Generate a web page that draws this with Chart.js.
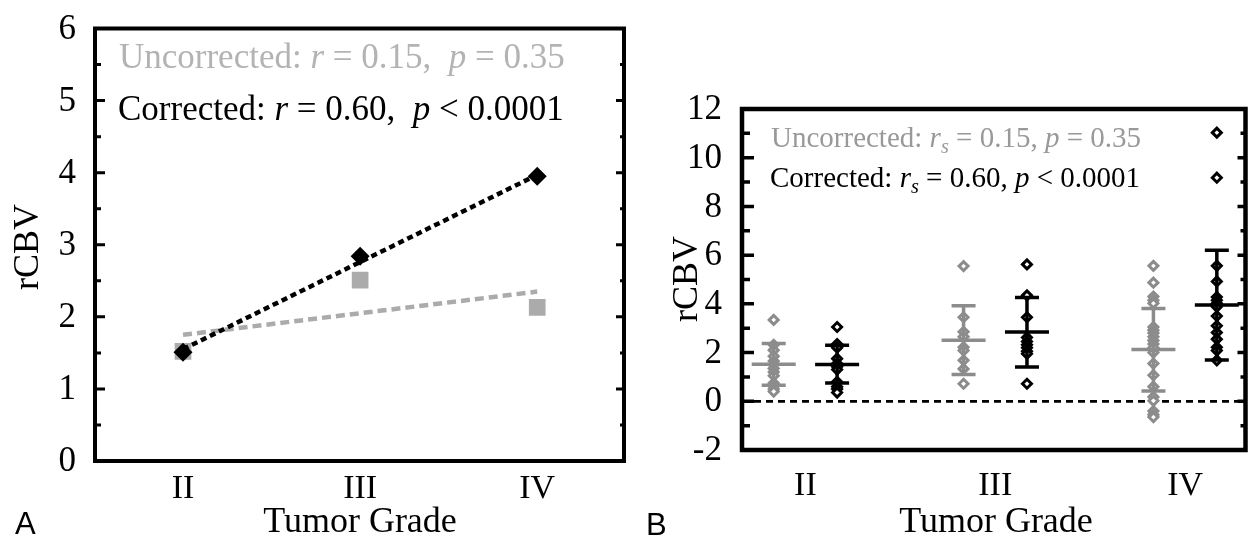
<!DOCTYPE html>
<html>
<head>
<meta charset="utf-8">
<script src="https://cdn.jsdelivr.net/npm/chart.js@4.4.0/dist/chart.umd.min.js"></script>
<style>
  html, body { margin: 0; background: #fff; }
  #wrap { position: relative; width: 1253px; height: 542px; }
  #wrap canvas { position: absolute; left: 0; top: 0; }
</style>
</head>
<body>
<div id="wrap">
  <canvas id="chart-a" width="1253" height="542"></canvas>
  <canvas id="chart-b" width="1253" height="542"></canvas>
</div>
<script>
const GRADES  = ['II', 'III', 'IV'];
const GRADE_X = [2, 3, 4];

// group means (shared by both panels)
const meanUncorrected = [1.52, 2.51, 2.13];
const meanCorrected   = [1.51, 2.84, 3.95];

// regression lines, value at grade II and grade IV
const fitUncorrected = [1.75, 2.35];
const fitCorrected   = [1.55, 3.97];

// per-patient rCBV
const uncII  = [3.34, 2.32, 2.1, 1.85, 1.65, 1.5, 1.35, 1.2, 1.05, 0.75, 0.62, 0.5, 0.4];
const corII  = [3.05, 2.35, 2.2, 1.75, 1.55, 1.42, 1.3, 0.8, 0.6, 0.5, 0.36];
const uncIII = [5.55, 3.45, 2.85, 2.65, 2.22, 2.08, 1.68, 1.33, 0.72];
const corIII = [5.62, 4.35, 3.45, 2.62, 2.45, 2.32, 2.2, 2.05, 1.95, 0.72];
const uncIV  = [5.56, 4.87, 4.3, 4.15, 4.02, 3.05, 2.92, 2.8, 2.65, 2.5, 2.35, 2.2, 2.0, 1.55, 1.07, 0.6, 0.18, 0.02, -0.4, -0.55, -0.65];
const corIV  = [11.03, 9.18, 5.56, 4.92, 4.28, 4.15, 4.02, 3.88, 3.5, 3.1, 2.82, 2.55, 2.22, 2.08, 1.68];

// mean +/- SD whiskers
const sdUncHi = [2.37, 3.92, 3.81];
const sdUncLo = [0.66, 1.10, 0.42];
const sdCorHi = [2.30, 4.26, 6.20];
const sdCorLo = [0.75, 1.41, 1.69];

const SERIF = '"Liberation Serif", "Times New Roman", serif';
const SANS  = '"Liberation Sans", Arial, sans-serif';
const GREY_A = '#ababab';
const GREY_B = '#8c8c8c';
const SHIFT  = 0.167;   // half-gap between uncorrected / corrected columns

const statA = [
  { x: 119, y: 68, size: 35, color: '#b3b3b3',
    parts: [{ t: 'Uncorrected: ' }, { t: 'r', i: 1 }, { t: ' = 0.15,  ' }, { t: 'p', i: 1 }, { t: ' = 0.35' }] },
  { x: 118, y: 120, size: 35, color: '#000',
    parts: [{ t: 'Corrected: ' }, { t: 'r', i: 1 }, { t: ' = 0.60,  ' }, { t: 'p', i: 1 }, { t: ' < 0.0001' }] },
];
const statB = [
  { x: 771, y: 147, size: 29, color: '#999',
    parts: [{ t: 'Uncorrected: ' }, { t: 'r', i: 1 }, { t: 's', i: 1, sub: 1 }, { t: ' = 0.15, ' }, { t: 'p', i: 1 }, { t: ' = 0.35' }] },
  { x: 770, y: 187, size: 29, color: '#000',
    parts: [{ t: 'Corrected: ' }, { t: 'r', i: 1 }, { t: 's', i: 1, sub: 1 }, { t: ' = 0.60, ' }, { t: 'p', i: 1 }, { t: ' < 0.0001' }] },
];

function rich(ctx, x, y, parts, size, color) {
  let cx = x;
  ctx.fillStyle = color;
  ctx.textAlign = 'left';
  ctx.textBaseline = 'alphabetic';
  for (const p of parts) {
    const s = p.sub ? size * 0.7 : size;
    ctx.font = `${p.i ? 'italic ' : ''}${s}px ${SERIF}`;
    ctx.fillText(p.t, cx, y + (p.sub ? size * 0.22 : 0));
    cx += ctx.measureText(p.t).width;
  }
}

function makeDecor(c) {
  return {
    id: 'decor',
    beforeDatasetsDraw(chart) {
      if (!c.zeroLine) return;
      const { ctx, chartArea: a, scales: { y } } = chart;
      const py = y.getPixelForValue(0);
      ctx.save();
      ctx.setLineDash([7, 5]);
      ctx.lineWidth = 2.8;
      ctx.strokeStyle = '#000';
      ctx.beginPath();
      ctx.moveTo(a.left, py);
      ctx.lineTo(a.right, py);
      ctx.stroke();
      ctx.restore();
    },
    afterDraw(chart) {
      const { ctx, chartArea: a, scales: { y } } = chart;
      ctx.save();
      ctx.strokeStyle = '#000';
      ctx.lineWidth = c.tickWidth;
      const n = Math.round((y.max - y.min) / c.minor);
      for (let k = 1; k < n; k++) {
        const v = y.min + k * c.minor;
        const major = Math.abs(v / c.major - Math.round(v / c.major)) < 1e-6;
        const py = y.getPixelForValue(v);
        ctx.beginPath();
        ctx.moveTo(a.left, py);
        ctx.lineTo(a.left + (major ? c.ticks[0] : c.ticks[1]), py);
        ctx.moveTo(a.right, py);
        ctx.lineTo(a.right - (major ? c.ticks[2] : c.ticks[3]), py);
        ctx.stroke();
      }
      ctx.lineWidth = c.frameWidth;
      ctx.strokeRect(a.left, a.top, a.right - a.left, a.bottom - a.top);

      ctx.fillStyle = '#000';
      ctx.font = `36px ${SERIF}`;
      ctx.textAlign = 'center';
      ctx.textBaseline = 'middle';
      ctx.fillText('Tumor Grade', c.xTitle[0], c.xTitle[1]);
      ctx.save();
      ctx.translate(c.yTitle[0], c.yTitle[1]);
      ctx.rotate(-Math.PI / 2);
      ctx.fillText('rCBV', 0, 0);
      ctx.restore();

      ctx.font = `31px ${SANS}`;
      ctx.textAlign = 'left';
      ctx.textBaseline = 'alphabetic';
      ctx.fillText(c.letter, c.letterAt[0], c.letterAt[1]);

      for (const s of c.stats) rich(ctx, s.x, s.y, s.parts, s.size, s.color);
      ctx.restore();
    },
  };
}

// mean line and SD whiskers for each column of panel B
const meanSd = {
  id: 'meanSd',
  afterDatasetsDraw(chart) {
    const { ctx, scales: { x, y } } = chart;
    const groups = [
      { color: GREY_B, shift: -SHIFT, mean: meanUncorrected, hi: sdUncHi, lo: sdUncLo },
      { color: '#000', shift:  SHIFT, mean: meanCorrected,   hi: sdCorHi, lo: sdCorLo },
    ];
    ctx.save();
    ctx.lineWidth = 3.5;
    for (const g of groups) {
      ctx.strokeStyle = g.color;
      g.mean.forEach((m, i) => {
        const px = x.getPixelForValue(GRADE_X[i] + g.shift);
        const pm = y.getPixelForValue(m);
        const ph = y.getPixelForValue(g.hi[i]);
        const pl = y.getPixelForValue(g.lo[i]);
        ctx.beginPath();
        ctx.moveTo(px, ph); ctx.lineTo(px, pl);
        ctx.moveTo(px - 12, ph); ctx.lineTo(px + 12, ph);
        ctx.moveTo(px - 12, pl); ctx.lineTo(px + 12, pl);
        ctx.moveTo(px - 22, pm); ctx.lineTo(px + 22, pm);
        ctx.stroke();
      });
    }
    ctx.restore();
  },
};

function gradeAxis(min, max, pad, height) {
  return {
    type: 'linear', min, max,
    afterBuildTicks: s => { s.ticks = GRADE_X.map(v => ({ value: v })); },
    afterFit: s => { s.height = height; },
    grid: { display: false },
    border: { display: false },
    ticks: {
      callback: v => GRADES[GRADE_X.indexOf(v)],
      color: '#000', padding: pad, maxRotation: 0, autoSkip: false,
      font: { family: SERIF, size: 34 },
    },
  };
}

function valueAxis(min, max, step, width, pad, offset) {
  return {
    min, max,
    afterFit: s => { s.width = width; },
    grid: { display: false },
    border: { display: false },
    ticks: {
      stepSize: step, color: '#000', padding: pad, labelOffset: offset,
      font: { family: SERIF, size: 35, lineHeight: 1 },
    },
  };
}

const common = {
  responsive: false,
  animation: false,
  events: [],
  plugins: { legend: { display: false }, tooltip: { enabled: false } },
};

const pts = arr => arr.map((v, i) => ({ x: GRADE_X[i], y: v }));
const fit = arr => [{ x: GRADE_X[0], y: arr[0] }, { x: GRADE_X[2], y: arr[1] }];
const column = (vals, g, shift) => vals.map(v => ({ x: GRADE_X[g] + shift, y: v }));

new Chart(document.getElementById('chart-a'), {
  type: 'scatter',
  data: {
    datasets: [
      { label: 'Corrected', data: pts(meanCorrected), order: 0,
        pointStyle: 'rectRot', pointRadius: 9.5, backgroundColor: '#000', borderColor: '#000', borderWidth: 0 },
      { label: 'Corrected fit', data: fit(fitCorrected), order: 1, showLine: true, pointRadius: 0,
        borderColor: '#000', borderWidth: 4.5, borderDash: [6, 4] },
      { label: 'Uncorrected fit', data: fit(fitUncorrected), order: 2, showLine: true, pointRadius: 0,
        borderColor: GREY_A, borderWidth: 4.5, borderDash: [9, 5] },
      { label: 'Uncorrected', data: pts(meanUncorrected), order: 3,
        pointStyle: 'rect', pointRadius: 11.8, backgroundColor: GREY_A, borderColor: GREY_A, borderWidth: 0 },
    ],
  },
  options: {
    ...common,
    layout: { padding: { top: 18, right: 1253 - 624, left: 0, bottom: 0 } },
    scales: {
      x: gradeAxis(1.503, 4.49, 0, 81),
      y: valueAxis(0, 6, 1, 95, 11, 1),
    },
  },
  plugins: [makeDecor({
    minor: 0.5, major: 1, ticks: [10, 6, 8, 4], tickWidth: 3, frameWidth: 4,
    xTitle: [360, 523], yTitle: [29, 247], letter: 'A', letterAt: [15, 534], stats: statA,
  })],
});

const ptStyle = color => ({
  pointStyle: 'rectRot', pointRadius: 4.5, borderWidth: 3,
  backgroundColor: '#fff', borderColor: color,
});

new Chart(document.getElementById('chart-b'), {
  type: 'scatter',
  data: {
    datasets: [
      { label: 'Corrected', ...ptStyle('#000'),
        data: [...column(corII, 0, SHIFT), ...column(corIII, 1, SHIFT), ...column(corIV, 2, SHIFT)] },
      { label: 'Uncorrected', ...ptStyle(GREY_B),
        data: [...column(uncII, 0, -SHIFT), ...column(uncIII, 1, -SHIFT), ...column(uncIV, 2, -SHIFT)] },
    ],
  },
  options: {
    ...common,
    layout: { padding: { top: 109, right: 3, left: 0, bottom: 0 } },
    scales: {
      x: gradeAxis(1.666, 4.318, 8, 92),
      y: valueAxis(-2, 12, 2, 742, 12, 1),
    },
  },
  plugins: [meanSd, makeDecor({
    zeroLine: true, minor: 1, major: 2, ticks: [12, 8, 8, 5], tickWidth: 3.5, frameWidth: 4.5,
    xTitle: [996, 523], yTitle: [688, 279], letter: 'B', letterAt: [646, 535], stats: statB,
  })],
});
</script>
</body>
</html>
